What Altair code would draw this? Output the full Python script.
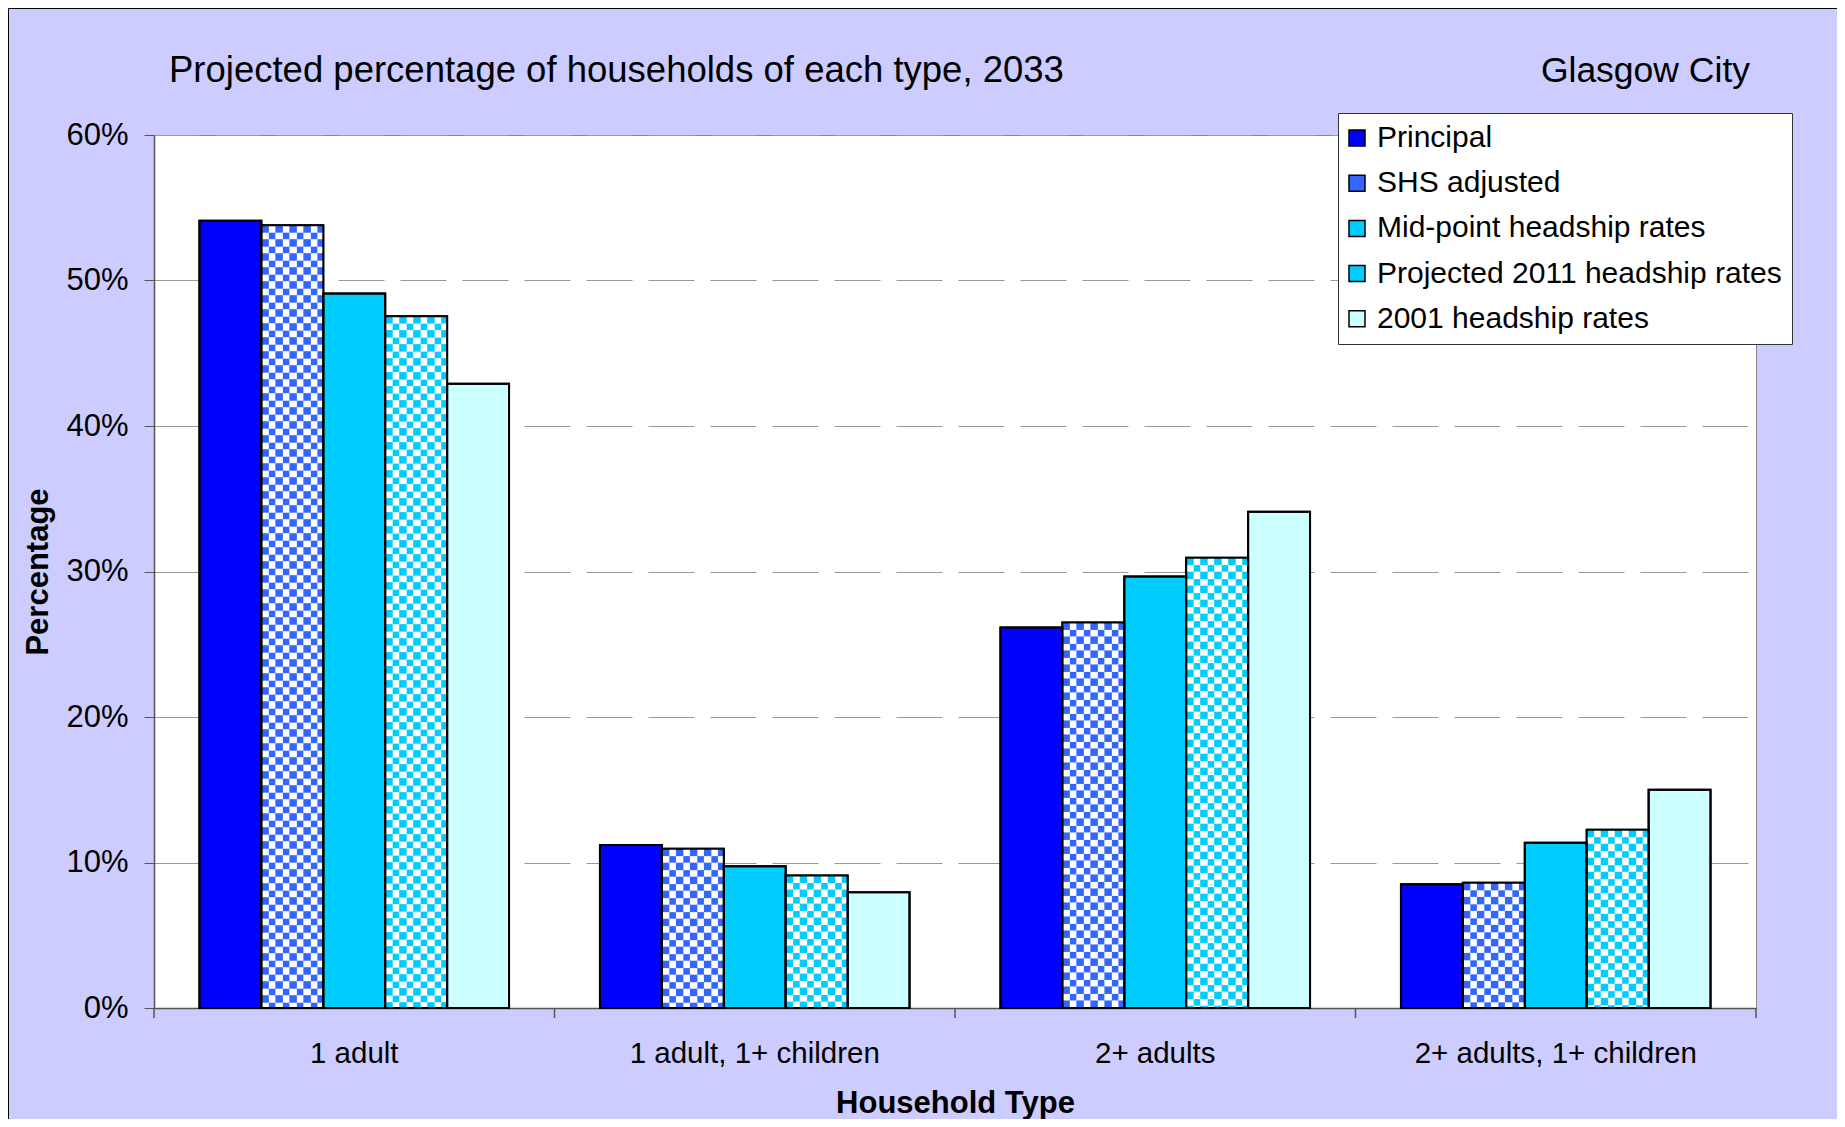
import urllib.parse
import altair as alt
import pandas as pd

FONT = "Liberation Sans"

title_text = ["Projected percentage of households of each type, 2033"]
area_text = ["Glasgow City"]

categories = ["1 adult", "1 adult, 1+ children", "2+ adults", "2+ adults, 1+ children"]
series = [
    "Principal",
    "SHS adjusted",
    "Mid-point headship rates",
    "Projected 2011 headship rates",
    "2001 headship rates",
]
principal = [54.1, 11.2, 26.15, 8.5]
shs_adjusted = [53.8, 10.95, 26.5, 8.6]
midpoint = [49.1, 9.75, 29.65, 11.35]
projected_2011 = [47.55, 9.1, 30.95, 12.25]
rates_2001 = [42.9, 7.95, 34.1, 15.0]
y_ticks = [0, 10, 20, 30, 40, 50, 60]

colors = ["#0000FF", "#3366FF", "#00CCFF", "#00CCFF", "#CCFFFF"]

rows = []
for s, vals in zip(series, [principal, shs_adjusted, midpoint, projected_2011, rates_2001]):
    for c, v in zip(categories, vals):
        rows.append({"category": c, "series": s, "value": v})
df = pd.DataFrame(rows)
cat_df = pd.DataFrame({"category": categories})

W, H = 1602, 873
PAD_INNER = 0.227
PAD_OUTER = PAD_INNER / 2
HALF_GAP = (W / len(categories)) * PAD_INNER / 2  # px between band edge and step edge


def checker(color, cell=7):
    n = 2 * cell
    svg = (
        "<svg xmlns='http://www.w3.org/2000/svg' width='100%' height='100%'>"
        f"<defs><pattern id='p' width='{n}' height='{n}' patternUnits='userSpaceOnUse'>"
        f"<rect width='{n}' height='{n}' fill='#ffffff' shape-rendering='crispEdges'/>"
        f"<rect width='{cell}' height='{cell}' fill='{color}' shape-rendering='crispEdges'/>"
        f"<rect x='{cell}' y='{cell}' width='{cell}' height='{cell}' fill='{color}' shape-rendering='crispEdges'/>"
        "</pattern></defs><rect width='100%' height='100%' fill='url(#p)'/></svg>"
    )
    return "data:image/svg+xml;charset=utf-8," + urllib.parse.quote(svg)


x_enc = alt.X(
    "category:N",
    sort=categories,
    scale=alt.Scale(paddingInner=PAD_INNER, paddingOuter=PAD_OUTER),
    title="Household Type",
    axis=alt.Axis(
        labelAngle=0,
        labelFontSize=29.5,
        labelFont=FONT,
        labelColor="black",
        labelPadding=31.5,
        labelLimit=0,
        ticks=False,
        domainColor="#555555",
        domainWidth=1.5,
        grid=False,
        titleFont=FONT,
        titleFontSize=31,
        titleFontWeight="bold",
        titleColor="black",
        titleY=104,
        titleBaseline="alphabetic",
    ),
)
xo_enc = alt.XOffset(
    "series:N", sort=series, scale=alt.Scale(domain=series, paddingInner=0, paddingOuter=0)
)
y_enc = alt.Y(
    "value:Q",
    scale=alt.Scale(domain=[0, 60], nice=False),
    title="Percentage",
    axis=alt.Axis(
        values=y_ticks,
        labelExpr="datum.value + '%'",
        labelFontSize=31,
        labelFont=FONT,
        labelColor="black",
        labelPadding=16,
        tickSize=10,
        tickColor="#555555",
        domainColor="#555555",
        domainWidth=1.5,
        grid=True,
        gridColor="#999999",
        gridDash=[46, 16],
        gridDashOffset=2,
        gridWidth=1,
        titleFont=FONT,
        titleFontSize=31,
        titleFontWeight="bold",
        titleColor="black",
        titleAngle=270,
        titleX=-107,
        titleY=436.5,
        titleBaseline="alphabetic",
    ),
)

base = alt.Chart(df)

bars = base.mark_bar(stroke="black", strokeWidth=2).encode(
    x=x_enc,
    xOffset=xo_enc,
    y=y_enc,
    fill=alt.Fill(
        "series:N",
        sort=series,
        scale=alt.Scale(domain=series, range=colors),
        legend=alt.Legend(
            title=None,
            orient="none",
            legendX=1184,
            legendY=-22,
            fillColor="white",
            strokeColor="#333333",
            padding=10,
            labelFont=FONT,
            labelFontSize=30,
            labelColor="black",
            labelOffset=5,
            symbolOffset=-6,
            symbolType="square",
            symbolSize=256,
            symbolStrokeColor="black",
            symbolStrokeWidth=1.5,
            rowPadding=15.2,
            labelLimit=600,
        ),
    ),
)

img_shs = (
    base.transform_filter(alt.datum.series == "SHS adjusted")
    .mark_image(aspect=False)
    .encode(x=x_enc, xOffset=xo_enc, y=y_enc, y2=alt.datum(0), url=alt.value(checker("#3366FF")))
)
img_proj = (
    base.transform_filter(alt.datum.series == "Projected 2011 headship rates")
    .mark_image(aspect=False)
    .encode(x=x_enc, xOffset=xo_enc, y=y_enc, y2=alt.datum(0), url=alt.value(checker("#00CCFF")))
)

outline = base.mark_bar(fillOpacity=0, stroke="black", strokeWidth=2).encode(
    x=x_enc, xOffset=xo_enc, y=y_enc
)

# category-boundary tick marks below the x axis (Excel style)
ticks_start = (
    alt.Chart(cat_df)
    .mark_rule(color="#555555", strokeWidth=1.5, xOffset=-HALF_GAP)
    .encode(
        x=alt.X("category:N", sort=categories, bandPosition=0),
        y=alt.value(H),
        y2=alt.value(H + 10),
    )
)
ticks_end = (
    alt.Chart(cat_df)
    .transform_filter(alt.datum.category == categories[-1])
    .mark_rule(color="#555555", strokeWidth=1.5, xOffset=HALF_GAP)
    .encode(
        x=alt.X("category:N", sort=categories, bandPosition=1),
        y=alt.value(H),
        y2=alt.value(H + 10),
    )
)

title_mark = (
    alt.Chart(pd.DataFrame({"t": title_text}))
    .mark_text(align="left", baseline="alphabetic", fontSize=36.5, font=FONT, color="black")
    .encode(text="t:N", x=alt.value(15), y=alt.value(-53))
)
area_mark = (
    alt.Chart(pd.DataFrame({"t": area_text}))
    .mark_text(align="right", baseline="alphabetic", fontSize=35.5, font=FONT, color="black")
    .encode(text="t:N", x=alt.value(1596), y=alt.value(-53))
)

frame = (
    alt.Chart(pd.DataFrame({"f": [0]}))
    .mark_rect(fillOpacity=0, stroke="black", strokeWidth=1)
    .encode(
        x=alt.value(-145.5),
        x2=alt.value(W + 90),
        y=alt.value(-126.5),
        y2=alt.value(H + 120),
    )
)

chart = (
    alt.layer(
        bars, img_shs, img_proj, outline, ticks_start, ticks_end, title_mark, area_mark, frame
    )
    .properties(
        width=W,
        height=H,
        autosize=alt.AutoSizeParams(type="none"),
        padding={"left": 146, "top": 127, "right": 81, "bottom": 111},
        background="#CCCCFF",
        view=alt.ViewBackground(fill="white", stroke="#888888", strokeWidth=1),
    )
    .configure(font=FONT)
    .configure_view(fill="white", stroke="#888888", strokeWidth=1)
)

chart.save("out.html", embed_options={"renderer": "svg", "actions": False})
